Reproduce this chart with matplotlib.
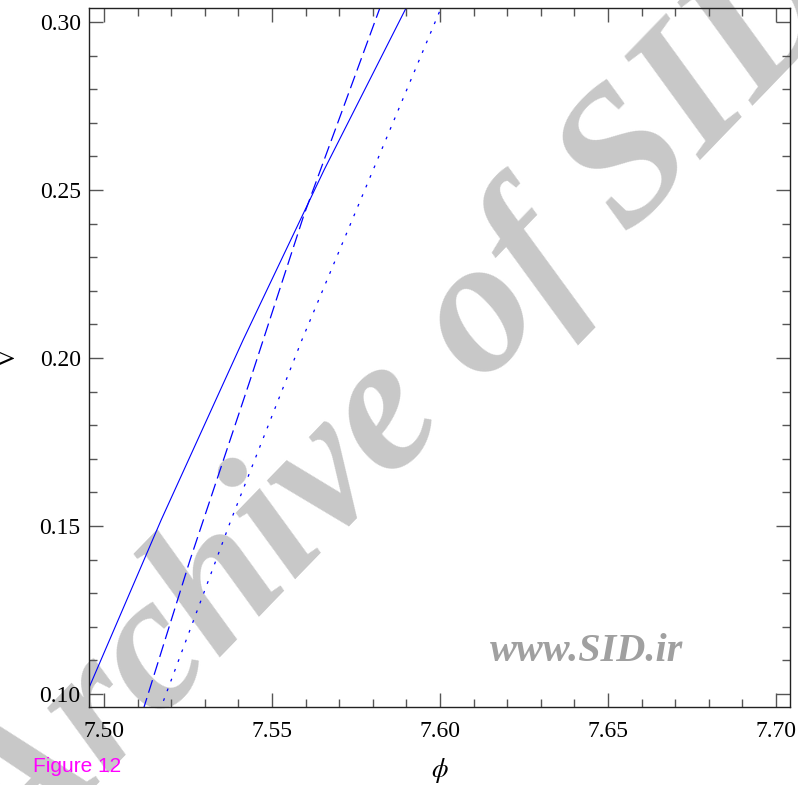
import matplotlib.pyplot as plt

plt.rcParams['font.family'] = ['Liberation Serif', 'DejaVu Serif']
plt.rcParams['mathtext.fontset'] = 'stix'
plt.rcParams['lines.scale_dashes'] = False

# curves (phi, V)
phi_solid = [7.4926, 7.4955, 7.5170, 7.5414, 7.5655, 7.5899, 7.5923]
v_solid = [0.0950, 0.1018, 0.1518, 0.2054, 0.2560, 0.3042, 0.3090]

phi_dash = [7.5116, 7.5119, 7.5256, 7.5435, 7.5595, 7.5821, 7.5838]
v_dash = [0.0950, 0.0961, 0.1399, 0.1935, 0.2426, 0.3042, 0.3090]

phi_dot = [7.5166, 7.5170, 7.5378, 7.5589, 7.5801, 7.6003, 7.6023]
v_dot = [0.0950, 0.0961, 0.1518, 0.2054, 0.2560, 0.3042, 0.3090]

xticks = [7.50, 7.55, 7.60, 7.65, 7.70]
yticks = [0.10, 0.15, 0.20, 0.25, 0.30]

fig = plt.figure(figsize=(7.98, 7.85), dpi=100)
ax = fig.add_axes([0.1115, 0.0994, 0.8785, 0.8904])
ax.patch.set_visible(False)

# watermark behind everything
fig.text(0.505, 0.478, 'Archive of SID', fontsize=139, fontweight='bold', fontstyle='italic',
         color='#c8c8c8', rotation=46, ha='center', va='center', zorder=-5)

ax.plot(phi_solid, v_solid, color='blue', lw=0.8)
ax.plot(phi_dash, v_dash, color='blue', lw=0.9, dashes=(9.5, 4))
ax.plot(phi_dot, v_dot, color='blue', lw=0.9, dashes=(2.0, 5.5))

ax.set_xlim(7.4955, 7.7042)
ax.set_ylim(0.0961, 0.3042)
ax.set_xticks(xticks)
ax.set_xticklabels(['%.2f' % t for t in xticks])
ax.set_yticks(yticks)
ax.set_yticklabels(['%.2f' % t for t in yticks])
ax.set_xticks([7.50 + 0.01 * i for i in range(21)], minor=True)
ax.set_yticks([0.10 + 0.01 * i for i in range(21)], minor=True)
ax.tick_params(which='both', direction='in', top=True, right=True, color='#555555',
               labelsize=17)
ax.tick_params(axis='x', pad=10)
ax.tick_params(axis='y', pad=6)
ax.tick_params(which='major', length=10, width=1)
ax.tick_params(which='minor', length=6, width=1)
for s in ax.spines.values():
    s.set_color('#222222')
    s.set_linewidth(1.0)

fig.text(0.551, 0.019, r'$\phi$', fontsize=19, ha='center', va='center')
fig.text(0.012, 0.545, 'V', fontsize=17, rotation=90, ha='center', va='center')
fig.text(0.735, 0.170, 'www.SID.ir', fontsize=29, fontweight='bold', fontstyle='italic',
         color='#a0a0a0', ha='center', va='center')
fig.text(0.041, 0.024, 'Figure 12', fontsize=15, color='magenta', family='Liberation Sans',
         ha='left', va='center')

fig.savefig('out.png', dpi=100)
